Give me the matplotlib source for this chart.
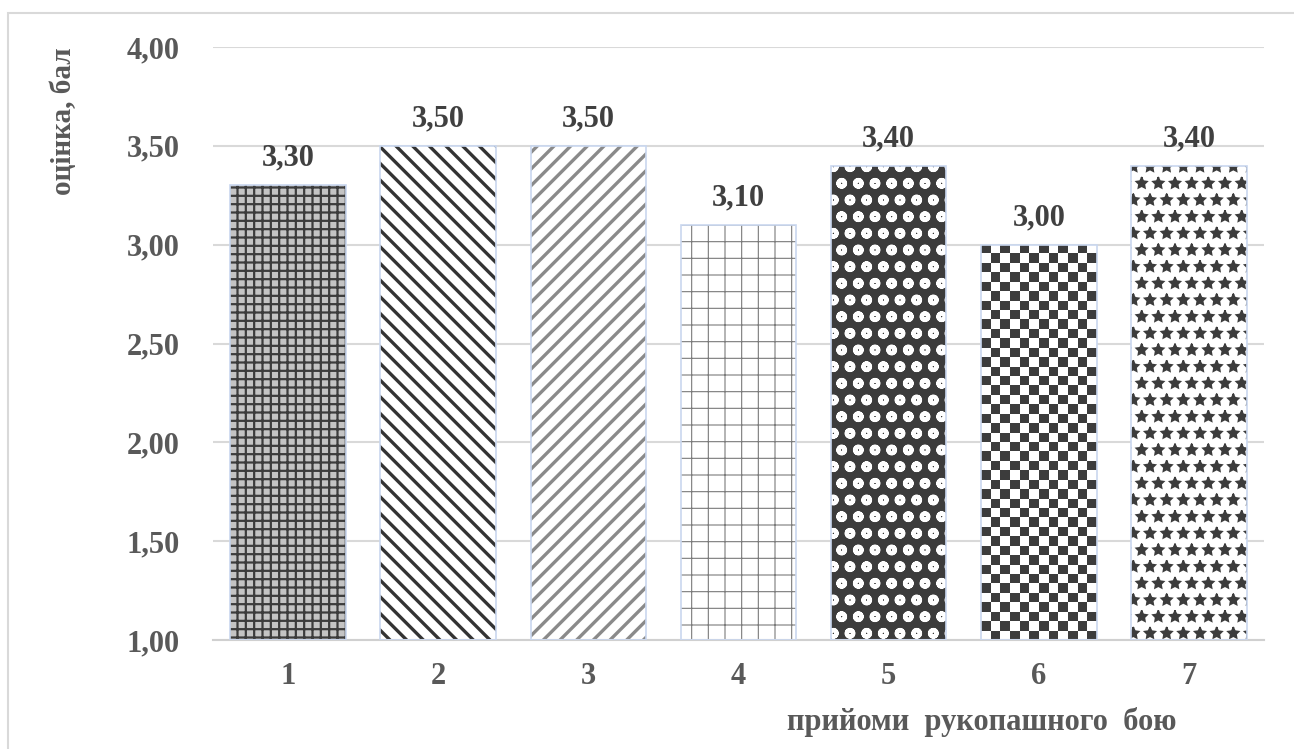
import matplotlib.pyplot as plt
import matplotlib.patches as mpatches
from matplotlib.colors import ListedColormap
import numpy as np

# дані
categories = ['1', '2', '3', '4', '5', '6', '7']
values = [3.30, 3.50, 3.50, 3.10, 3.40, 3.00, 3.40]
yticks = [1.0, 1.5, 2.0, 2.5, 3.0, 3.5, 4.0]

# стилі заливки для кожного стовпчика
faces = ['#c4c4c4', 'white', 'white', 'white', '#3c3c3c', 'white', 'white']
hatch_colors = ['#3c3c3c', '#333333', '#8a8a8a', '#7a7a7a', 'white', '#3c3c3c', '#3c3c3c']
hatches = ['++', '\\\\', '//', '+', 'o', None, '*']
hatch_lw = [1.6, 2.4, 2.4, 0.8, 3.0, 1.0, 1.2]

plt.rcParams['font.family'] = ['Liberation Serif', 'DejaVu Serif']
plt.rcParams['font.weight'] = 'bold'
plt.rcParams['hatch.linewidth'] = 1.6

fig = plt.figure(figsize=(12.94, 7.49), dpi=100)
ax = fig.add_axes([213 / 1294, 1 - 640 / 749, 1051 / 1294, 593 / 749])

x = np.arange(len(categories))
width = 0.77

for i in range(len(categories)):
    with plt.rc_context({'hatch.linewidth': hatch_lw[i]}):
        b = ax.bar(x[i], values[i] - 1.0, bottom=1.0, width=width, color=faces[i],
                   edgecolor=hatch_colors[i], hatch=hatches[i], linewidth=0, zorder=2)
    if i == 5:
        # шахова заливка
        nr, nc = 42, 12
        board = np.add.outer(np.arange(nr), np.arange(nc)) % 2
        im = ax.imshow(board, cmap=ListedColormap(['#3c3c3c', 'white']),
                       interpolation='nearest',
                       extent=(x[i] - width / 2, x[i] + width / 2, 1.0, values[i]),
                       aspect='auto', zorder=2.5)
        im.set_clip_path(b.patches[0])
    ax.bar(x[i], values[i] - 1.0, bottom=1.0, width=width, color='none',
           edgecolor='#c9d7ef', linewidth=1.2, zorder=3)
    ax.annotate(f'{values[i]:.2f}'.replace('.', ','), (x[i], values[i]),
                textcoords='offset points', xytext=(0, 9), ha='center', va='bottom',
                fontsize=22, color='#404040', fontweight='bold')

ax.set_xlim(-0.5, len(categories) - 0.5)
ax.set_ylim(1.0, 4.0)
ax.set_xticks(x)
ax.set_xticklabels(categories)
ax.set_yticks(yticks)
ax.set_yticklabels([f'{v:.2f}'.replace('.', ',') for v in yticks])
ax.tick_params(axis='both', length=0, labelsize=22, labelcolor='#595959')
ax.tick_params(axis='x', pad=16)
ax.tick_params(axis='y', pad=24)
ax.grid(axis='y', color='#d9d9d9', linewidth=1.5, zorder=0)
ax.set_axisbelow(True)
for s in ['top', 'right', 'left']:
    ax.spines[s].set_visible(False)
ax.spines['bottom'].set_color('#d0d0d0')
ax.spines['bottom'].set_linewidth(1.5)

fig.text(0.049, 0.838, 'оцінка, бал', rotation=90, ha='center', va='center',
         fontsize=21, color='#595959', fontweight='bold')
fig.text(0.759, 0.036, 'прийоми  рукопашного  бою', ha='center', va='center',
         fontsize=22, color='#595959', fontweight='bold')

# рамка діаграми
fig.patches.append(mpatches.Rectangle((8 / 1294, -0.05), 1.05, 1 - 13 / 749 + 0.05,
                                      transform=fig.transFigure, fill=False,
                                      edgecolor='#d9d9d9', linewidth=1.5))

fig.savefig('out.png', dpi=100)
